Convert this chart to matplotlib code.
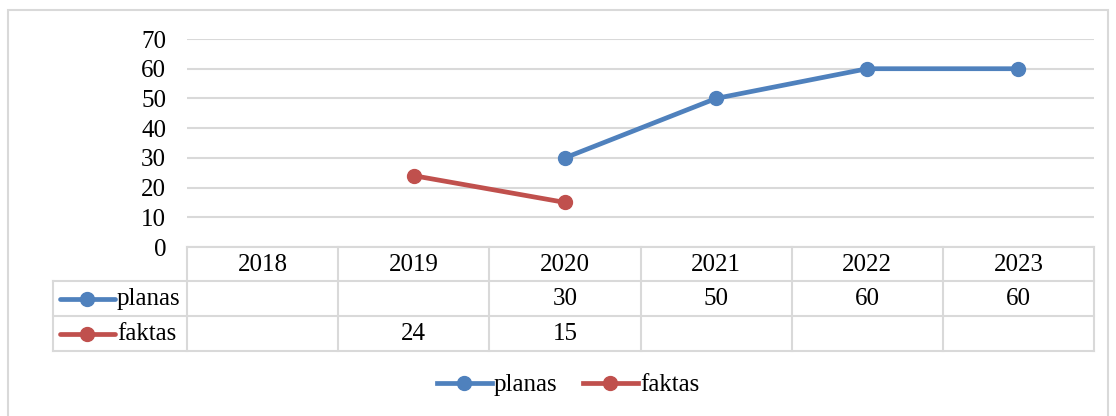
import matplotlib
matplotlib.use("Agg")
import matplotlib.pyplot as plt
from matplotlib.lines import Line2D
from matplotlib.patches import Rectangle
import numpy as np

years = ["2018", "2019", "2020", "2021", "2022", "2023"]
planas = [None, None, 30, 50, 60, 60]
faktas = [None, 24, 15, None, None, None]
series_names = ["planas", "faktas"]
yticks = [0, 10, 20, 30, 40, 50, 60, 70]

BLUE = "#4F81BD"
RED = "#C0504D"
GRID = "#D9D9D9"
FONT = "Liberation Serif"
FS = 18

W, H = 1116, 416
fig = plt.figure(figsize=(W / 100, H / 100), dpi=100)
plt.rcParams['font.family'] = [FONT, 'DejaVu Serif']

def fx(px):
    return px / W

def fy(py):
    return 1 - py / H

# outer chart border
fig.add_artist(Rectangle((fx(8), fy(430)), fx(1108) - fx(8), fy(10) - fy(430),
                         transform=fig.transFigure, fill=False, edgecolor=GRID, lw=1.5))

ax_left, ax_right, ax_top, ax_bot = 187, 1094, 39, 247
ax = fig.add_axes([fx(ax_left), fy(ax_bot), fx(ax_right) - fx(ax_left), fy(ax_top) - fy(ax_bot)])
n = len(years)
ax.set_xlim(-0.5, n - 0.5)
ax.set_ylim(0, 70)
ax.set_yticks(yticks)
ax.set_yticklabels([str(v) for v in yticks], fontsize=FS, family=FONT)
ax.tick_params(axis='y', length=0, pad=15)
ax.set_xticks([])
for s in ["top", "right", "left"]:
    ax.spines[s].set_visible(False)
ax.spines["bottom"].set_color(GRID)
ax.spines["bottom"].set_linewidth(1.5)
ax.grid(axis='y', color=GRID, lw=1.5)
ax.set_axisbelow(True)

x = np.arange(n)
def to_arr(vals):
    return np.array([np.nan if v is None else v for v in vals], dtype=float)

LW = 3.4
MS = 10
ax.plot(x, to_arr(planas), color=BLUE, lw=LW, marker='o', ms=MS, clip_on=False,
        solid_capstyle='round')
ax.plot(x, to_arr(faktas), color=RED, lw=LW, marker='o', ms=MS, clip_on=False,
        solid_capstyle='round')

# data table
axh = ax_bot - ax_top
def ay(py):
    return (ax_bot - py) / axh

trans = ax.get_xaxis_transform()
row_y = [247, 281, 316, 351]
tbl_left_px = 53
px_per_unit = (ax_right - ax_left) / n
tbl_left = -0.5 - (ax_left - tbl_left_px) / px_per_unit
lw_t = 1.5
for ry in row_y[1:]:
    ax.add_line(Line2D([tbl_left, n - 0.5], [ay(ry), ay(ry)], transform=trans,
                       color=GRID, lw=lw_t, clip_on=False))
for i in range(n + 1):
    xv = i - 0.5
    ax.add_line(Line2D([xv, xv], [ay(247), ay(351)], transform=trans,
                       color=GRID, lw=lw_t, clip_on=False))
ax.add_line(Line2D([tbl_left, tbl_left], [ay(281), ay(351)], transform=trans,
                   color=GRID, lw=lw_t, clip_on=False))

for i, yr in enumerate(years):
    ax.text(i, ay(265), yr, transform=trans, ha='center', va='center',
            fontsize=FS, family=FONT)

rows = [(series_names[0], planas, BLUE, 299), (series_names[1], faktas, RED, 334)]
for name, vals, col, ry in rows:
    for i, v in enumerate(vals):
        if v is not None:
            ax.text(i, ay(ry), f"{v:g}", transform=trans, ha='center', va='center',
                    fontsize=FS, family=FONT)
    kx0 = tbl_left + (60 - tbl_left_px) / px_per_unit
    kx1 = tbl_left + (115 - tbl_left_px) / px_per_unit
    ax.add_line(Line2D([kx0, kx1], [ay(ry), ay(ry)], transform=trans, color=col,
                       lw=LW, clip_on=False, solid_capstyle='round'))
    ax.add_line(Line2D([(kx0 + kx1) / 2], [ay(ry)], transform=trans, color=col,
                       marker='o', ms=MS, clip_on=False, lw=0))
    ax.text(tbl_left + (117 - tbl_left_px) / px_per_unit, ay(ry), name, transform=trans,
            ha='left', va='center', fontsize=FS, family=FONT)

handles = [Line2D([], [], color=BLUE, lw=LW, marker='o', ms=MS),
           Line2D([], [], color=RED, lw=LW, marker='o', ms=MS)]
fig.legend(handles, series_names, loc='center', bbox_to_anchor=(fx(568), fy(385)),
           ncol=2, frameon=False, prop={'family': FONT, 'size': FS},
           handlelength=2.2, handletextpad=0.1, columnspacing=1.0)

fig.savefig("out.png", dpi=100)
